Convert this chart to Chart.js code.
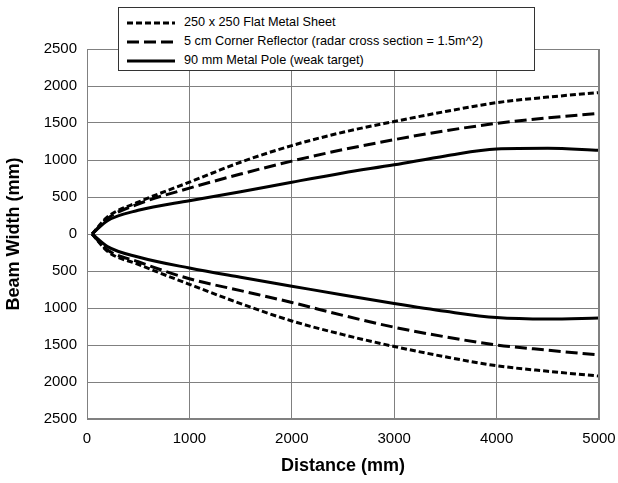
<!DOCTYPE html>
<html>
<head>
<meta charset="utf-8">
<script src="https://cdn.jsdelivr.net/npm/chart.js@4/dist/chart.umd.min.js"></script>
<style>
html,body{margin:0;padding:0;background:#fff;}
#wrap{position:relative;width:618px;height:483px;}
#legend{position:absolute;left:118px;top:7px;width:415px;height:62px;border:1px solid #333;background:#fff;
  font-family:"Liberation Sans",Arial,sans-serif;font-size:12.7px;color:#000;box-sizing:content-box;}
#legend div{position:absolute;left:8px;height:19px;line-height:19px;white-space:nowrap;}
#legend svg{vertical-align:middle;margin-right:9px;}
</style>
</head>
<body>
<div id="wrap">
  <canvas id="c" width="618" height="483"></canvas>
  <div id="legend"></div>
</div>
<script>
/* data */
const distance=[50,200,500,1000,1500,2000,2500,3000,3500,4000,4500,5000];
const sheetUp=[0,230,430,700,970,1195,1375,1520,1655,1775,1850,1910];
const sheetDown=[0,-235,-410,-680,-940,-1175,-1360,-1520,-1660,-1780,-1855,-1920];
const reflUp=[0,210,405,620,810,985,1140,1275,1395,1495,1570,1630];
const reflDown=[0,-215,-375,-605,-765,-925,-1100,-1260,-1390,-1500,-1570,-1635];
const poleUp=[0,180,320,450,570,700,825,935,1055,1150,1158,1132];
const poleDown=[0,-170,-310,-460,-585,-705,-825,-940,-1045,-1130,-1150,-1135];
const seriesNames=['250 x 250 Flat Metal Sheet','5 cm Corner Reflector (radar cross section = 1.5m^2)','90 mm Metal Pole (weak target)'];
const dashes=[[6,3],[12,5],[]];

const FONT='"Liberation Sans", Arial, sans-serif';
const pts=arr=>arr.map((v,i)=>({x:distance[i],y:v}));
const ds=(label,arr,dash)=>({label,data:pts(arr),borderColor:'#000',borderWidth:3,borderDash:dash,
  borderCapStyle:'butt',pointRadius:0,fill:false,cubicInterpolationMode:'monotone'});

const datasets=[
  ds(seriesNames[0],sheetUp,dashes[0]),ds(seriesNames[0],sheetDown,dashes[0]),
  ds(seriesNames[1],reflUp,dashes[1]),ds(seriesNames[1],reflDown,dashes[1]),
  ds(seriesNames[2],poleUp,dashes[2]),ds(seriesNames[2],poleDown,dashes[2])
];

new Chart(document.getElementById('c'),{
  type:'line',
  data:{datasets},
  options:{
    responsive:false,animation:false,
    layout:{padding:{top:49,right:19,left:0,bottom:0}},
    plugins:{legend:{display:false},tooltip:{enabled:false}},
    scales:{
      x:{type:'linear',min:0,max:5000,
        ticks:{stepSize:1000,color:'#000',font:{family:FONT,size:15},padding:11,maxRotation:0,callback:v=>String(v)},
        grid:{color:'#808080',drawTicks:false},
        border:{color:'#808080'},
        title:{display:true,text:'Distance (mm)',color:'#000',font:{family:FONT,size:18,weight:'bold'},padding:{top:0,bottom:6}},
        afterFit:s=>{s.height=64;s.paddingLeft=0;s.paddingRight=0;}
      },
      y:{min:-2500,max:2500,
        ticks:{stepSize:500,color:'#000',font:{family:FONT,size:15},padding:10,callback:v=>String(Math.abs(v))},
        grid:{color:'#808080',drawTicks:false},
        border:{color:'#808080'},
        title:{display:true,text:'Beam Width (mm)',color:'#000',font:{family:FONT,size:18,weight:'bold'},padding:{top:3,bottom:0}},
        afterFit:s=>{s.width=87;s.paddingTop=0;s.paddingBottom=0;}
      }
    }
  },
  plugins:[{id:'plotBorder',afterDraw(ch){
    const a=ch.chartArea,ctx=ch.ctx;
    ctx.save();ctx.strokeStyle='#808080';ctx.lineWidth=1;
    ctx.strokeRect(a.left+0.5,a.top+0.5,a.right-a.left-1,a.bottom-a.top-1);
    ctx.restore();
  }}]
});

/* legend */
const legend=document.getElementById('legend');
seriesNames.forEach((name,i)=>{
  const row=document.createElement('div');
  row.style.top=(5+i*19)+'px';
  row.innerHTML=`<svg width="48" height="6"><line x1="0" y1="3" x2="48" y2="3" stroke="#000" stroke-width="3" stroke-dasharray="${dashes[i].join(',')||'none'}"/></svg>${name}`;
  legend.appendChild(row);
});
</script>
</body>
</html>
